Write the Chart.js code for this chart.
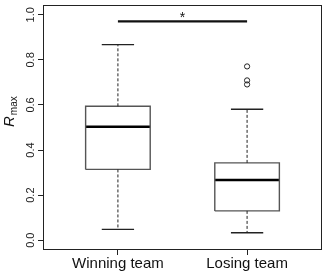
<!DOCTYPE html>
<html>
<head>
<meta charset="utf-8">
<script src="https://cdn.jsdelivr.net/npm/chart.js@4.4.1/dist/chart.umd.min.js"></script>
<style>
html,body{margin:0;padding:0;background:#fff;}
#wrap{width:327px;height:276px;position:relative;}
</style>
</head>
<body>
<div id="wrap"><canvas id="c"></canvas></div>
<script>
// ---- data ----
const categories = ['Winning team', 'Losing team'];
const whiskerLow = [0.048, 0.033];
const q1 = [0.314, 0.130];
const median = [0.503, 0.267];
const q3 = [0.594, 0.343];
const whiskerHigh = [0.868, 0.581];
const outliers = [[], [0.771, 0.709, 0.691]];
const yTicks = [0.0, 0.2, 0.4, 0.6, 0.8, 1.0];
const sigPair = [1, 2];
const sigLevel = 0.971;
const sigLabel = '*';
const yTitle = 'R';
const yTitleSub = 'max';

// ---- build datasets ----
const halfBox = 0.25, halfCap = 0.125;
const datasets = [];
categories.forEach((c, i) => {
  const x = i + 1;
  // whiskers (dashed)
  datasets.push({data: [{x, y: q3[i]}, {x, y: whiskerHigh[i]}], borderDash: [3, 2], borderWidth: 1, borderColor: '#222'});
  datasets.push({data: [{x, y: q1[i]}, {x, y: whiskerLow[i]}], borderDash: [3, 2], borderWidth: 1, borderColor: '#222'});
  // caps
  datasets.push({data: [{x: x - halfCap, y: whiskerHigh[i]}, {x: x + halfCap, y: whiskerHigh[i]}], borderWidth: 1.3, borderColor: '#222'});
  datasets.push({data: [{x: x - halfCap, y: whiskerLow[i]}, {x: x + halfCap, y: whiskerLow[i]}], borderWidth: 1.3, borderColor: '#222'});
  // box
  datasets.push({data: [
    {x: x - halfBox, y: q1[i]}, {x: x + halfBox, y: q1[i]},
    {x: x + halfBox, y: q3[i]}, {x: x - halfBox, y: q3[i]}, {x: x - halfBox, y: q1[i]}
  ], borderWidth: 1.4, borderColor: '#555', backgroundColor: '#fff', fill: true});
  // median
  datasets.push({data: [{x: x - halfBox, y: median[i]}, {x: x + halfBox, y: median[i]}], borderWidth: 2.5, borderColor: '#000'});
  // outliers
  if (outliers[i].length) {
    datasets.push({data: outliers[i].map(v => ({x, y: v})), showLine: false, pointRadius: 2.6,
      pointBorderWidth: 1, pointBorderColor: '#222', pointBackgroundColor: 'rgba(0,0,0,0)'});
  }
});
// significance bar
datasets.push({data: [{x: sigPair[0], y: sigLevel}, {x: sigPair[1], y: sigLevel}], borderWidth: 2.2, borderColor: '#111'});
datasets.forEach(d => {
  if (d.showLine === undefined) { d.showLine = true; d.pointRadius = d.pointRadius || 0; }
  d.borderCapStyle = 'butt';
});

const overlay = {
  id: 'overlay',
  afterDraw(chart) {
    const ctx = chart.ctx, a = chart.chartArea, ys = chart.scales.y, xs = chart.scales.x;
    ctx.save();
    // frame
    ctx.strokeStyle = '#222'; ctx.lineWidth = 1;
    ctx.strokeRect(a.left + 0.5, a.top + 0.5, a.right - a.left - 1, a.bottom - a.top - 1);
    // y tick labels rotated
    ctx.fillStyle = '#222';
    ctx.font = '11px "Liberation Sans", Arial, sans-serif';
    ctx.textAlign = 'center'; ctx.textBaseline = 'alphabetic';
    yTicks.forEach(v => {
      const py = ys.getPixelForValue(v);
      ctx.save(); ctx.translate(34, py); ctx.rotate(-Math.PI / 2);
      ctx.fillText(v.toFixed(1), 0, 0); ctx.restore();
    });
    // y title
    ctx.save(); ctx.translate(14, 127); ctx.rotate(-Math.PI / 2);
    ctx.textAlign = 'left';
    ctx.font = 'italic 15px "Liberation Sans", Arial, sans-serif';
    ctx.fillStyle = '#111';
    ctx.fillText(yTitle, 0, 0);
    const w = ctx.measureText(yTitle).width;
    ctx.font = '10px "Liberation Sans", Arial, sans-serif';
    ctx.fillText(yTitleSub, w + 1, 3);
    ctx.restore();
    // significance label
    ctx.font = '14px "Liberation Sans", Arial, sans-serif';
    ctx.textAlign = 'center'; ctx.textBaseline = 'alphabetic';
    ctx.fillStyle = '#111';
    ctx.fillText(sigLabel, xs.getPixelForValue((sigPair[0] + sigPair[1]) / 2), ys.getPixelForValue(sigLevel) + 1);
    ctx.restore();
  }
};

new Chart(document.getElementById('c'), {
  type: 'scatter',
  data: {datasets},
  options: {
    responsive: true, maintainAspectRatio: false, animation: false,
    devicePixelRatio: 1,
    layout: {padding: {top: 0, right: 1, left: 0, bottom: 0}},
    plugins: {legend: {display: false}, tooltip: {enabled: false}},
    elements: {line: {tension: 0}},
    scales: {
      x: {
        type: 'linear', min: 0.42, max: 2.58,
        afterBuildTicks: s => { s.ticks = categories.map((c, i) => ({value: i + 1})); },
        afterFit: s => { s.height = 26; },
        ticks: {callback: v => categories[v - 1] || '', font: {size: 15, family: '"Liberation Sans", Arial, sans-serif'}, color: '#111', padding: 0, maxRotation: 0, autoSkip: false},
        grid: {drawOnChartArea: false, tickLength: 5, color: '#222'},
        border: {display: false}
      },
      y: {
        type: 'linear', min: -0.0435, max: 1.0435,
        afterBuildTicks: s => { s.ticks = yTicks.map(v => ({value: v})); },
        afterFit: s => { s.width = 43; },
        ticks: {display: false},
        grid: {drawOnChartArea: false, tickLength: 5, color: '#222'},
        border: {display: false}
      }
    }
  },
  plugins: [overlay]
});
</script>
</body>
</html>
